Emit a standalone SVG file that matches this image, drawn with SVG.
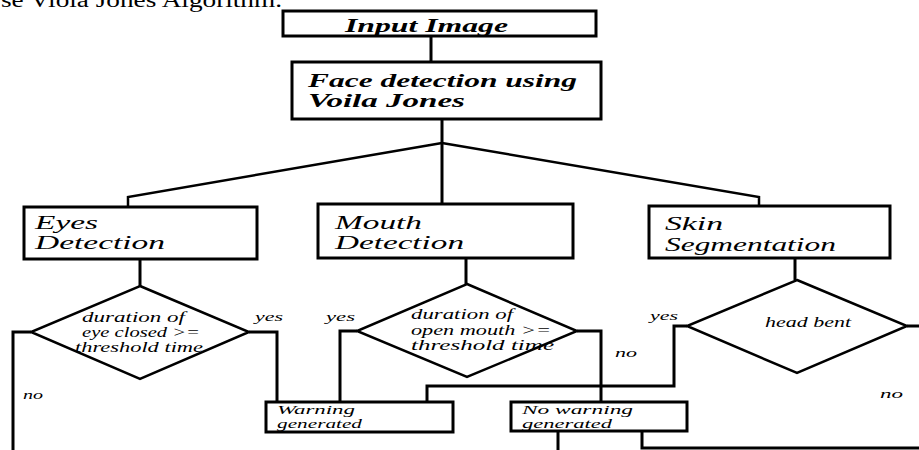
<svg xmlns="http://www.w3.org/2000/svg" width="919" height="450" viewBox="0 0 919 450">
<style>
.box{fill:#fff;stroke:#000;stroke-width:3}
.dia{fill:#fff;stroke:#000;stroke-width:2.5}
.ln{fill:none;stroke:#000;stroke-width:3}
.t{font-family:"Liberation Serif","DejaVu Serif",serif;font-style:italic;fill:#000}
.big{font-size:19px;font-weight:bold}
.mid{font-size:19px}
.sm{font-size:15px}
.xs{font-size:13px}
.lb{font-size:13px}
</style>
<rect width="919" height="450" fill="#fff"/>
<text x="1" y="7" font-family="Liberation Serif, serif" font-size="20" textLength="281" lengthAdjust="spacingAndGlyphs">se Viola Jones Algorithm.</text>
<g id="connectors">
<polyline class="ln" points="431,36 431,62"/>
<polyline class="ln" points="442,119 442,205"/>
<polyline class="ln" points="442,143 128,197 128,207" style="stroke-width:2.5"/>
<polyline class="ln" points="442,143 759,197 759,206" style="stroke-width:2.5"/>
<polyline class="ln" points="140,259 140,286"/>
<polyline class="ln" points="466,258 466,284"/>
<polyline class="ln" points="795,258 795,280"/>
<polyline class="ln" points="31,332 13,332 13,450"/>
<polyline class="ln" points="249,332 277,332 277,402"/>
<polyline class="ln" points="357,331 340,331 340,402"/>
<polyline class="ln" points="577,331 601,331 601,402"/>
<polyline class="ln" points="687,326 674,326 674,386 427,386 427,402"/>
<polyline class="ln" points="907,326 919,326"/>
<polyline class="ln" points="558,431 558,450"/>
<polyline class="ln" points="642,431 642,448 919,448"/>
</g>
<g id="input-image">
<rect class="box" x="283" y="11" width="313" height="25"/>
<text class="t big" x="345" y="32" textLength="163" lengthAdjust="spacingAndGlyphs">Input Image</text>
</g>
<g id="face-detection">
<rect class="box" x="292" y="62" width="309" height="57"/>
<text class="t big" x="308" y="87" textLength="269" lengthAdjust="spacingAndGlyphs">Face detection using</text>
<text class="t big" x="308" y="107" textLength="157" lengthAdjust="spacingAndGlyphs">Voila Jones</text>
</g>
<g id="eyes-detection">
<rect class="box" x="24" y="207" width="233" height="52"/>
<text class="t mid" x="35" y="229" textLength="63" lengthAdjust="spacingAndGlyphs">Eyes</text>
<text class="t mid" x="35" y="249" textLength="130" lengthAdjust="spacingAndGlyphs">Detection</text>
</g>
<g id="mouth-detection">
<rect class="box" x="318" y="204" width="255" height="54"/>
<text class="t mid" x="335" y="229" textLength="87" lengthAdjust="spacingAndGlyphs">Mouth</text>
<text class="t mid" x="335" y="249" textLength="129" lengthAdjust="spacingAndGlyphs">Detection</text>
</g>
<g id="skin-segmentation">
<rect class="box" x="649" y="206" width="241" height="52"/>
<text class="t mid" x="665" y="230" textLength="58" lengthAdjust="spacingAndGlyphs">Skin</text>
<text class="t mid" x="665" y="251" textLength="171" lengthAdjust="spacingAndGlyphs">Segmentation</text>
</g>
<g id="eye-decision">
<polygon class="dia" points="140,286 249,332 140,379 31,332"/>
<text class="t sm" x="82" y="322" textLength="103" lengthAdjust="spacingAndGlyphs">duration of</text>
<text class="t sm" x="82" y="337" textLength="118" lengthAdjust="spacingAndGlyphs">eye closed  &gt;=</text>
<text class="t sm" x="75" y="352" textLength="128" lengthAdjust="spacingAndGlyphs">threshold time</text>
</g>
<g id="mouth-decision">
<polygon class="dia" points="467,284 577,331 467,377 357,331"/>
<text class="t sm" x="411" y="319" textLength="102" lengthAdjust="spacingAndGlyphs">duration of</text>
<text class="t sm" x="411" y="335" textLength="140" lengthAdjust="spacingAndGlyphs">open mouth &gt;=</text>
<text class="t sm" x="411" y="350" textLength="143" lengthAdjust="spacingAndGlyphs">threshold time</text>
</g>
<g id="head-decision">
<polygon class="dia" points="797,280 907,326 797,373 687,326"/>
<text class="t sm" x="765" y="327" textLength="86" lengthAdjust="spacingAndGlyphs">head bent</text>
</g>
<g id="warning">
<rect class="box" x="266" y="402" width="187" height="30"/>
<text class="t xs" x="277" y="414" textLength="78" lengthAdjust="spacingAndGlyphs">Warning</text>
<text class="t xs" x="277" y="428" textLength="85" lengthAdjust="spacingAndGlyphs">generated</text>
</g>
<g id="no-warning">
<rect class="box" x="511" y="402" width="176" height="29"/>
<text class="t xs" x="522" y="414" textLength="111" lengthAdjust="spacingAndGlyphs">No warning</text>
<text class="t xs" x="522" y="428" textLength="90" lengthAdjust="spacingAndGlyphs">generated</text>
</g>
<g id="labels">
<text class="t lb" x="255" y="321" textLength="28" lengthAdjust="spacingAndGlyphs">yes</text>
<text class="t lb" x="326" y="321" textLength="29" lengthAdjust="spacingAndGlyphs">yes</text>
<text class="t lb" x="650" y="320" textLength="28" lengthAdjust="spacingAndGlyphs">yes</text>
<text class="t lb" x="23" y="399" textLength="20" lengthAdjust="spacingAndGlyphs">no</text>
<text class="t lb" x="615" y="357" textLength="22" lengthAdjust="spacingAndGlyphs">no</text>
<text class="t lb" x="880" y="398" textLength="23" lengthAdjust="spacingAndGlyphs">no</text>
</g>
</svg>
